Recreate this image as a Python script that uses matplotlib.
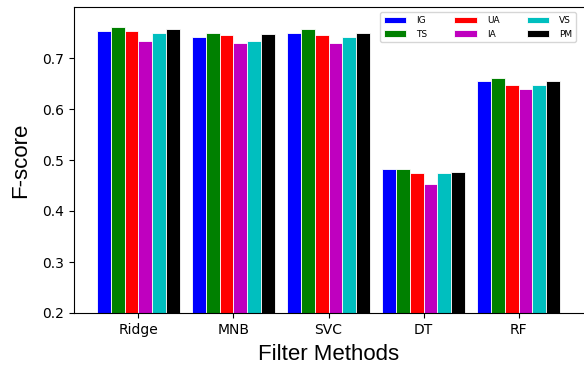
import matplotlib
matplotlib.use("Agg")
import matplotlib.pyplot as plt
import numpy as np

categories = ["Ridge", "MNB", "SVC", "DT", "RF"]
series_names = ["IG", "TS", "UA", "IA", "VS", "PM"]
colors = ["b", "g", "r", "m", "c", "k"]
IG = [0.753, 0.742, 0.750, 0.483, 0.655]
TS = [0.760, 0.750, 0.756, 0.483, 0.660]
UA = [0.753, 0.745, 0.745, 0.475, 0.647]
IA = [0.734, 0.729, 0.729, 0.453, 0.639]
VS = [0.750, 0.734, 0.742, 0.475, 0.647]
PM = [0.756, 0.748, 0.750, 0.477, 0.655]
values = [IG, TS, UA, IA, VS, PM]

fig = plt.figure(figsize=(5.84, 3.67), dpi=100)
ax = fig.add_axes([74/584, 1-313/367, 509/584, (313-7)/367])
x = np.arange(len(categories))
w = 0.145
for i, (name, vals, c) in enumerate(zip(series_names, values, colors)):
    ax.bar(x + (i - 2.5) * w, vals, w, color=c, label=name, edgecolor="white", linewidth=0.6)
ax.set_ylim(0.2, 0.8)
ax.set_yticks([0.2, 0.3, 0.4, 0.5, 0.6, 0.7])
ax.set_xticks(x)
ax.set_xticklabels(categories)
ax.tick_params(labelsize=10)
ax.set_xlabel("Filter Methods", fontsize=16, family="Liberation Sans", labelpad=5)
ax.set_ylabel("F-score", fontsize=16, family="Liberation Sans", labelpad=8)
ax.spines["right"].set_visible(False)
ax.legend(ncol=3, fontsize=6.5, loc="upper right", handlelength=2.5,
          handletextpad=1.1, columnspacing=3.0, bbox_to_anchor=(0.995, 0.997))
fig.savefig("out.png", dpi=100)
